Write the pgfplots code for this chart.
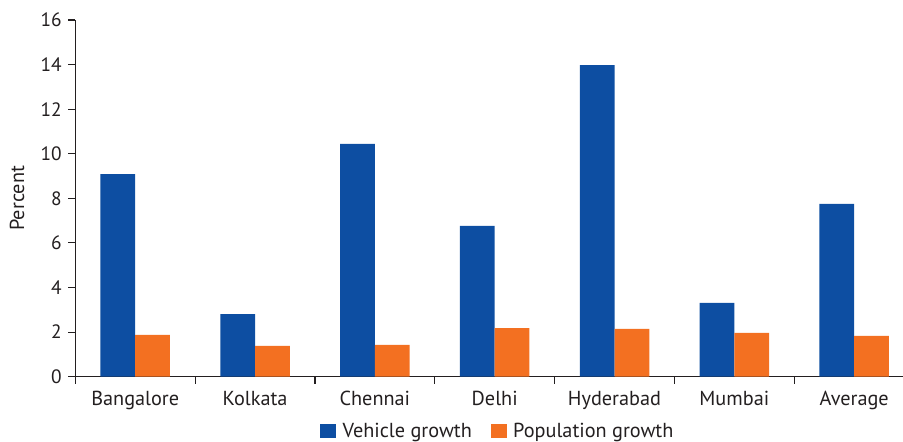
\documentclass[border=0pt]{standalone}
\usepackage{fontspec}
\setmainfont{PT Sans}
\usepackage{pgfplots}
\pgfplotsset{compat=1.18}

\definecolor{vehblue}{RGB}{13,78,162}
\definecolor{poporange}{RGB}{243,112,33}
\definecolor{axisgray}{RGB}{35,31,32}

\newcommand{\chartfont}{\fontsize{15.2}{17}\selectfont}
\newcommand{\numfont}{\fontsize{14.5}{16}\selectfont}

\begin{document}
\begin{tikzpicture}
% page = 903x442 px at 0.75pt per px
\path[use as bounding box] (-56.5pt,-49pt) rectangle (620.8pt,282.5pt);
\begin{axis}[
    at={(0pt,0pt)}, anchor=south west,
    scale only axis,
    width=629.1pt, height=267.5pt,
    xmin=-0.5, xmax=6.5,
    ymin=0, ymax=16,
    ytick={0,2,...,16},
    xtick={0,...,6},
    xticklabels={Bangalore,Kolkata,Chennai,Delhi,Hyderabad,Mumbai,Average},
    minor xtick={-0.5,0.5,...,5.5},
    axis x line*=bottom,
    axis y line*=left,
    axis line style={axisgray, line width=0.8pt},
    tick align=outside,
    major tick length=5.25pt,
    minor tick length=5.25pt,
    every tick/.style={axisgray, line width=0.8pt},
    major x tick style={draw=none},
    tick label style={text=axisgray},
    xticklabel style={font=\chartfont, yshift=-2pt},
    yticklabel style={font=\numfont, xshift=-1.5pt},
    /pgf/number format/assume math mode=true,
    ylabel={Percent},
    every axis y label/.style={at={(axis description cs:-0.0695,0.5)}, rotate=90, anchor=center, text=axisgray, font=\chartfont},
    ybar=0pt,
    bar width=0.29,
    legend columns=2,
    legend style={at={(axis description cs:0.504,0)}, anchor=center, yshift=-40.8pt,
        draw=none, fill=none, text=axisgray, font=\chartfont,
        /tikz/every odd column/.append style={column sep=3pt},
        /tikz/every even column/.append style={column sep=12pt}},
    legend image code/.code={\fill[#1] (0pt,-5.6pt) rectangle (12pt,5.6pt);},
]
\addplot[fill=vehblue, draw=none] coordinates {
    (0,9.09) (1,2.81) (2,10.44) (3,6.76) (4,13.98) (5,3.31) (6,7.75)
};
\addlegendentry{Vehicle growth}
\addplot[fill=poporange, draw=none] coordinates {
    (0,1.87) (1,1.38) (2,1.42) (3,2.18) (4,2.14) (5,1.96) (6,1.83)
};
\addlegendentry{Population growth}
\end{axis}
\end{tikzpicture}
\end{document}
